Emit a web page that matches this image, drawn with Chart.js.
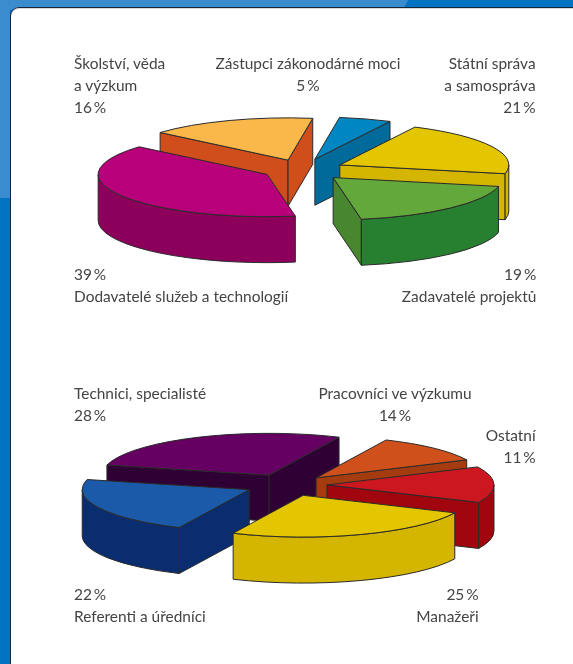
<!DOCTYPE html>
<html><head><meta charset="utf-8">
<script src="https://cdn.jsdelivr.net/npm/chart.js@4/dist/chart.umd.min.js"></script>
<style>
html,body{margin:0;padding:0;width:573px;height:664px;overflow:hidden;background:#0073c1}
#bg{position:absolute;left:0;top:0;width:573px;height:664px;background:#3b8ccf;clip-path:polygon(0 0,408px 0,403px 10px,10px 10px,10px 198px,0 198px)}
#panel{position:absolute;left:10px;top:7px;width:570px;height:670px;background:#fff;border-top:1px solid #14263a;border-left:1px solid #14263a;border-top-left-radius:9px;box-sizing:border-box;box-shadow:inset 0 1px 0 #d9d9d9}
canvas{position:absolute}
.l{position:absolute;font:16px/22px Lato,sans-serif;color:#444;white-space:pre}
</style></head><body>
<div id="bg"></div><div id="panel"></div>
<canvas id="c1" width="440" height="231" style="left:82px;top:54px"></canvas>
<canvas id="c2" width="440" height="220" style="left:68px;top:375px"></canvas>
<script>
const topCategories=["Dodavatelé služeb a technologií","Školství, věda a výzkum","Zástupci zákonodárné moci","Státní správa a samospráva","Zadavatelé projektů"];
const topValues=[39,16,5,21,19];
const topOffsets=[40,40,43,42,45];
const topColors=["#b8007a","#fbb84a","#0087c3","#e3c500","#62a83a"];
const topWalls=["#8c005c","#d04e1c","#006a9a","#d4b600","#278030"];
const topFaces=["#8c005c","#d04e1c","#006a9a","#d4b600","#48862f"];

const bottomCategories=["Technici, specialisté","Pracovníci ve výzkumu","Ostatní","Manažeři","Referenti a úředníci"];
const bottomLabelValues=[28,14,11,25,22];
const bottomSliceValues=[28,11,14,25,22];
const bottomOffsets=[44,40,39,44,43];
const bottomColors=["#650062","#d0501c","#cc1720","#e3c500","#1a5aa8"];
const bottomWalls=["#2f0033","#a53c10","#a1060f","#d4b600","#0a2d70"];

const TILT=0.25, DEPTH=46, EDGE="#2a2a2a";
const pieces3d={
 id:"pieces3d",
 beforeDatasetsDraw(chart,args,o){
  const ctx=chart.ctx, arcs=chart.getDatasetMeta(0).data;
  const TAU=Math.PI*2;
  const items=arcs.map((a,i)=>{
    const s=a.startAngle,e=a.endAngle,m=(s+e)/2,off=a.options.offset;
    return {a,i,s,e,m,off,cx:a.x+Math.cos(m)*off,cy:a.y+Math.sin(m)*off*TILT,r:a.outerRadius};
  }).sort((p,q)=>Math.sin(p.m)-Math.sin(q.m));
  const pt=(p,t)=>[p.cx+p.r*Math.cos(t),p.cy+p.r*TILT*Math.sin(t)];
  ctx.save();
  ctx.lineJoin="round";ctx.lineWidth=1;ctx.strokeStyle=EDGE;
  for(const p of items){
    ctx.fillStyle=o.faces[p.i];
    const visible=[];
    if(Math.cos(p.s)<0) visible.push(p.s);
    if(Math.cos(p.e)>0) visible.push(p.e);
    for(const t of visible){
      const q=pt(p,t);
      ctx.beginPath();ctx.moveTo(p.cx,p.cy);ctx.lineTo(q[0],q[1]);ctx.lineTo(q[0],q[1]+DEPTH);ctx.lineTo(p.cx,p.cy+DEPTH);ctx.closePath();ctx.fill();ctx.stroke();
    }
    ctx.fillStyle=o.walls[p.i];
    for(let k=-1;k<=2;k++){
      const lo=Math.max(p.s,k*TAU), hi=Math.min(p.e,k*TAU+Math.PI);
      if(hi<=lo) continue;
      ctx.beginPath();
      ctx.ellipse(p.cx,p.cy,p.r,p.r*TILT,0,lo,hi,false);
      ctx.ellipse(p.cx,p.cy+DEPTH,p.r,p.r*TILT,0,hi,lo,true);
      ctx.closePath();ctx.fill();ctx.stroke();
    }
    ctx.fillStyle=p.a.options.backgroundColor;
    ctx.beginPath();ctx.moveTo(p.cx,p.cy);
    ctx.ellipse(p.cx,p.cy,p.r,p.r*TILT,0,p.s,p.e,false);
    ctx.closePath();ctx.fill();ctx.stroke();
  }
  ctx.restore();
  return false;
 }
};
function pie(id,values,labels,colors,offsets,walls,faces,rot,radius){
 return new Chart(document.getElementById(id),{
  type:"pie",
  data:{labels,datasets:[{data:values,backgroundColor:colors,borderWidth:0,offset:offsets,radius}]},
  plugins:[pieces3d],
  options:{responsive:false,animation:false,rotation:rot,events:[],
   layout:{padding:0},
   plugins:{legend:{display:false},tooltip:{enabled:false},pieces3d:{walls,faces}}}
 });
}
pie("c1",topValues,topCategories,topColors,topOffsets,topWalls,topFaces,170.4,169);
pie("c2",bottomSliceValues,bottomCategories,bottomColors,bottomOffsets,bottomWalls,bottomWalls,284,167);

function label(x,y,align,lines){
 const d=document.createElement("div");d.className="l";
 d.textContent=lines.join("\n");
 d.style.top=y+"px";
 d.style.transform="scaleX(0.965)";
 if(align==="right"){d.style.right=(573-x)+"px";d.style.textAlign="right";d.style.transformOrigin="right";}
 else if(align==="center"){d.style.left=(x-200)+"px";d.style.width="400px";d.style.textAlign="center";}
 else {d.style.left=x+"px";d.style.transformOrigin="left";}
 document.body.appendChild(d);
}
const pc=v=>v+"\u2009%";
label(74,52,"left",["Školství, věda","a výzkum",pc(topValues[1])]);
label(308,52,"center",[topCategories[2],pc(topValues[2])]);
label(536,52,"right",["Státní správa","a samospráva",pc(topValues[3])]);
label(74,263,"left",[pc(topValues[0]),topCategories[0]]);
label(536,263,"right",[pc(topValues[4]),topCategories[4]]);
label(74,382,"left",[bottomCategories[0],pc(bottomLabelValues[0])]);
label(395,382,"center",[bottomCategories[1],pc(bottomLabelValues[1])]);
label(536,424,"right",[bottomCategories[2],pc(bottomLabelValues[2])]);
label(74,583,"left",[pc(bottomLabelValues[4]),bottomCategories[4]]);
label(479,583,"right",[pc(bottomLabelValues[3]),bottomCategories[3]]);
</script>
</body></html>
